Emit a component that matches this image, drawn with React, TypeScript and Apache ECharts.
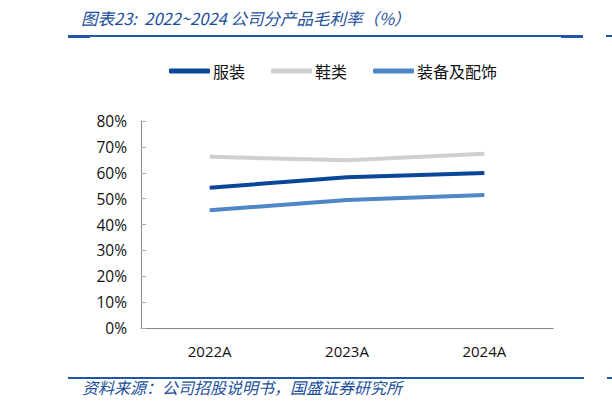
import React, { useEffect, useRef } from "react";
import * as echarts from "echarts";

const categories = ["2022A", "2023A", "2024A"];
const apparel = [54.2, 58.3, 59.9];
const footwear = [66.2, 64.8, 67.3];
const equipment = [45.5, 49.5, 51.4];
const seriesNames = ["服装", "鞋类", "装备及配饰"];
const titleText = "图表23:  2022~2024 公司分产品毛利率（%）";
const sourceText = "资料来源：公司招股说明书，国盛证券研究所";

export default function App() {
  const ref = useRef<HTMLDivElement>(null);
  useEffect(() => {
    const chart = echarts.init(ref.current!, null, { renderer: "svg" });
    const blue = "#1f56a8";
    const cjk = "'Noto Sans CJK SC', sans-serif";
    chart.setOption({
      animation: false,
      backgroundColor: "#ffffff",
      graphic: [
        { type: "text", left: 81, top: 10, style: { text: titleText, fill: "#1b4f9c", font: "italic 16.5px 'Noto Sans CJK SC', sans-serif" } },
        { type: "rect", shape: { x: 68, y: 35, width: 515, height: 2 }, style: { fill: blue } },
        { type: "rect", shape: { x: 68, y: 35, width: 22, height: 3 }, style: { fill: blue } },
        { type: "rect", shape: { x: 561, y: 35, width: 22, height: 3 }, style: { fill: blue } },
        { type: "rect", shape: { x: 606, y: 35, width: 6, height: 2 }, style: { fill: blue } },
        { type: "rect", shape: { x: 68, y: 377, width: 516, height: 2 }, style: { fill: blue } },
        { type: "rect", shape: { x: 607, y: 377, width: 5, height: 2 }, style: { fill: blue } },
        { type: "text", left: 82, top: 379, style: { text: sourceText, fill: "#1b4f9c", font: "italic 16px 'Noto Sans CJK SC', sans-serif" } },
      ],
      legend: {
        top: 58,
        left: 164,
        itemWidth: 41,
        itemHeight: 5,
        itemGap: 26,
        icon: "roundRect",
        textStyle: { fontSize: 16, color: "#111", fontFamily: cjk, padding: [0, 0, 0, -2] },
        data: seriesNames,
      },
      grid: { left: 141, right: 59, top: 121, bottom: 82, containLabel: false },
      xAxis: {
        type: "category",
        data: categories,
        boundaryGap: true,
        axisLine: { lineStyle: { color: "#888", width: 1 } },
        axisTick: { inside: true, length: 5, lineStyle: { color: "#aaa" } },
        axisLabel: { fontSize: 15, color: "#111", margin: 15, fontFamily: "'Open Sans', sans-serif" },
        splitLine: { show: false },
      },
      yAxis: {
        type: "value",
        min: 0,
        max: 80,
        interval: 10,
        axisLine: { show: true, lineStyle: { color: "#888", width: 1 } },
        axisTick: { show: true, inside: true, length: 5, lineStyle: { color: "#aaa" } },
        axisLabel: { fontSize: 15.5, color: "#111", margin: 14, formatter: "{value}%", fontFamily: "'Open Sans', sans-serif" },
        splitLine: { show: false },
      },
      series: [
        { name: seriesNames[0], type: "line", data: apparel, symbol: "none", lineStyle: { width: 4, color: "#0b4799" }, itemStyle: { color: "#0b4799" } },
        { name: seriesNames[1], type: "line", data: footwear, symbol: "none", lineStyle: { width: 4, color: "#cfcfcf" }, itemStyle: { color: "#cfcfcf" } },
        { name: seriesNames[2], type: "line", data: equipment, symbol: "none", lineStyle: { width: 4, color: "#4f86c6" }, itemStyle: { color: "#4f86c6" } },
      ],
    });
    return () => chart.dispose();
  }, []);
  return <div ref={ref} style={{ width: 612, height: 410, position: "absolute", left: 0, top: 0 }} />;
}
